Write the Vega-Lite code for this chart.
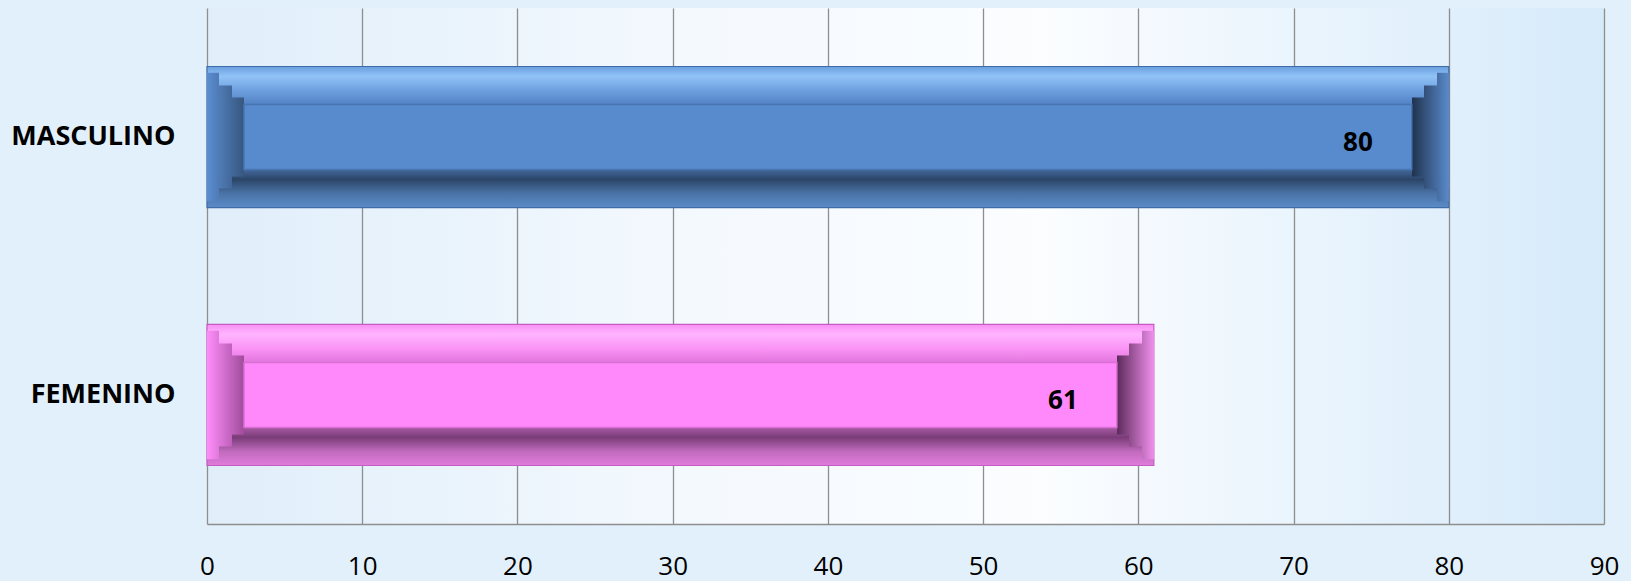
{
  "$schema": "https://vega.github.io/schema/vega-lite/v6.json",
  "width": 1397,
  "height": 516,
  "autosize": {"type": "none"},
  "padding": {"left": 207, "top": 8, "right": 27, "bottom": 57},
  "background": "#e2f0fb",
  "config": {
    "view": {
      "stroke": null,
      "fill": {
        "gradient": "linear", "x1": 0, "y1": 0, "x2": 1, "y2": 0,
        "stops": [
          {"offset": 0, "color": "#e0eefa"},
          {"offset": 0.35, "color": "#f4f9fe"},
          {"offset": 0.6, "color": "#fbfdff"},
          {"offset": 1, "color": "#d6eafa"}
        ]
      }
    },
    "font": "Open Sans"
  },
  "data": {
    "values": [
      {"sexo": "MASCULINO", "total": 80},
      {"sexo": "FEMENINO", "total": 61}
    ]
  },
  "encoding": {
    "y": {
      "field": "sexo", "type": "nominal", "sort": ["MASCULINO", "FEMENINO"],
      "scale": {"paddingInner": 0.453, "paddingOuter": 0.2267},
      "axis": {
        "title": null, "domain": false, "ticks": false, "grid": false,
        "labelFont": "Open Sans", "labelFontSize": 27, "labelFontWeight": "bold",
        "labelColor": "#000000", "labelPadding": 32
      }
    },
    "x": {
      "field": "total", "type": "quantitative",
      "scale": {"domain": [0, 90], "nice": false},
      "axis": {
        "title": null, "values": [0, 10, 20, 30, 40, 50, 60, 70, 80, 90],
        "grid": true, "gridColor": "#8e8e8e", "gridWidth": 1.3,
        "domain": true, "domainColor": "#8e8e8e", "domainWidth": 1.5,
        "ticks": false, "labelFont": "Open Sans", "labelFontSize": 26,
        "labelColor": "#000000", "labelBaseline": "middle", "labelPadding": 42,
        "labelFlush": false
      }
    }
  },
  "layer": [
    {
      "transform": [{"filter": "datum.sexo === 'MASCULINO'"}],
      "mark": {
        "type": "bar", "stroke": "#3f6ba6", "strokeWidth": 1.2,
        "fill": {
          "gradient": "linear", "x1": 0, "y1": 0, "x2": 0, "y2": 1,
          "stops": [
            {"offset": 0, "color": "#6a9fdf"},
            {"offset": 0.07, "color": "#91c3f7"},
            {"offset": 0.17, "color": "#6d9fdf"},
            {"offset": 0.26, "color": "#5585c6"},
            {"offset": 0.5, "color": "#5589cc"},
            {"offset": 0.73, "color": "#44699c"},
            {"offset": 0.8, "color": "#2b4568"},
            {"offset": 0.9, "color": "#4a73a6"},
            {"offset": 1, "color": "#5a8bc8"}
          ]
        }
      }
    },
    {
      "transform": [{"filter": "datum.sexo === 'MASCULINO'"}],
      "mark": {
        "type": "bar", "height": {"band": 0.91},
        "fill": {
          "gradient": "linear", "x1": 0, "y1": 0, "x2": 1, "y2": 0,
          "stops": [
            {"offset": 0, "color": "#5b8dd0"},
            {"offset": 0.0096, "color": "#4f7bb6"},
            {"offset": 0.0097, "color": "rgba(85,137,204,0)"},
            {"offset": 0.9903, "color": "rgba(85,137,204,0)"},
            {"offset": 0.9904, "color": "#476da2"},
            {"offset": 1, "color": "#5a8acb"}
          ]
        }
      },
      "encoding": {"x": {"field": "total", "type": "quantitative"}, "x2": {"datum": 0}}
    },
    {
      "transform": [{"filter": "datum.sexo === 'MASCULINO'"}],
      "mark": {
        "type": "bar", "height": {"band": 0.73},
        "fill": {
          "gradient": "linear", "x1": 0, "y1": 0, "x2": 1, "y2": 0,
          "stops": [
            {"offset": 0, "color": "#5b8dd0"},
            {"offset": 0.0201, "color": "#426899"},
            {"offset": 0.0202, "color": "rgba(85,137,204,0)"},
            {"offset": 0.9798, "color": "rgba(85,137,204,0)"},
            {"offset": 0.9799, "color": "#324e76"},
            {"offset": 1, "color": "#5a8acb"}
          ]
        }
      },
      "encoding": {"x": {"field": "total", "type": "quantitative"}, "x2": {"datum": 0}}
    },
    {
      "transform": [{"filter": "datum.sexo === 'MASCULINO'"}],
      "mark": {
        "type": "bar", "height": {"band": 0.56},
        "fill": {
          "gradient": "linear", "x1": 0, "y1": 0, "x2": 1, "y2": 0,
          "stops": [
            {"offset": 0, "color": "#5b8dd0"},
            {"offset": 0.0298, "color": "#36577f"},
            {"offset": 0.0299, "color": "rgba(85,137,204,0)"},
            {"offset": 0.9701, "color": "rgba(85,137,204,0)"},
            {"offset": 0.9702, "color": "#1f324d"},
            {"offset": 1, "color": "#5a8acb"}
          ]
        }
      },
      "encoding": {"x": {"field": "total", "type": "quantitative"}, "x2": {"datum": 0}}
    },
    {
      "transform": [{"filter": "datum.sexo === 'MASCULINO'"}],
      "mark": {
        "type": "bar", "height": {"band": 0.46},
        "xOffset": -37, "x2Offset": 37,
        "fill": "#578bce", "stroke": "#4775b2", "strokeWidth": 1.5
      },
      "encoding": {"x": {"field": "total", "type": "quantitative"}, "x2": {"datum": 0}}
    },
    {
      "transform": [{"filter": "datum.sexo === 'FEMENINO'"}],
      "mark": {
        "type": "bar", "stroke": "#c45cc2", "strokeWidth": 1.2,
        "fill": {
          "gradient": "linear", "x1": 0, "y1": 0, "x2": 0, "y2": 1,
          "stops": [
            {"offset": 0, "color": "#f890f4"},
            {"offset": 0.07, "color": "#ffb4ff"},
            {"offset": 0.17, "color": "#fb94f6"},
            {"offset": 0.26, "color": "#e478e0"},
            {"offset": 0.5, "color": "#fe88fa"},
            {"offset": 0.73, "color": "#a85aa5"},
            {"offset": 0.8, "color": "#7a3c78"},
            {"offset": 0.9, "color": "#c06bbd"},
            {"offset": 1, "color": "#e07cdc"}
          ]
        }
      }
    },
    {
      "transform": [{"filter": "datum.sexo === 'FEMENINO'"}],
      "mark": {
        "type": "bar", "height": {"band": 0.91},
        "fill": {
          "gradient": "linear", "x1": 0, "y1": 0, "x2": 1, "y2": 0,
          "stops": [
            {"offset": 0, "color": "#ff8efb"},
            {"offset": 0.0127, "color": "#e079dc"},
            {"offset": 0.0128, "color": "rgba(254,136,250,0)"},
            {"offset": 0.9872, "color": "rgba(254,136,250,0)"},
            {"offset": 0.9873, "color": "#c06fbd"},
            {"offset": 1, "color": "#f090ec"}
          ]
        }
      },
      "encoding": {"x": {"field": "total", "type": "quantitative"}, "x2": {"datum": 0}}
    },
    {
      "transform": [{"filter": "datum.sexo === 'FEMENINO'"}],
      "mark": {
        "type": "bar", "height": {"band": 0.73},
        "fill": {
          "gradient": "linear", "x1": 0, "y1": 0, "x2": 1, "y2": 0,
          "stops": [
            {"offset": 0, "color": "#ff8efb"},
            {"offset": 0.0264, "color": "#bf61bb"},
            {"offset": 0.0265, "color": "rgba(254,136,250,0)"},
            {"offset": 0.9735, "color": "rgba(254,136,250,0)"},
            {"offset": 0.9736, "color": "#8c4b89"},
            {"offset": 1, "color": "#f090ec"}
          ]
        }
      },
      "encoding": {"x": {"field": "total", "type": "quantitative"}, "x2": {"datum": 0}}
    },
    {
      "transform": [{"filter": "datum.sexo === 'FEMENINO'"}],
      "mark": {
        "type": "bar", "height": {"band": 0.56},
        "fill": {
          "gradient": "linear", "x1": 0, "y1": 0, "x2": 1, "y2": 0,
          "stops": [
            {"offset": 0, "color": "#ff8efb"},
            {"offset": 0.0391, "color": "#a04c9c"},
            {"offset": 0.0392, "color": "rgba(254,136,250,0)"},
            {"offset": 0.9608, "color": "rgba(254,136,250,0)"},
            {"offset": 0.9609, "color": "#5c2a5a"},
            {"offset": 1, "color": "#f090ec"}
          ]
        }
      },
      "encoding": {"x": {"field": "total", "type": "quantitative"}, "x2": {"datum": 0}}
    },
    {
      "transform": [{"filter": "datum.sexo === 'FEMENINO'"}],
      "mark": {
        "type": "bar", "height": {"band": 0.46},
        "xOffset": -37, "x2Offset": 37,
        "fill": "#ff88fa", "stroke": "#d86fd4", "strokeWidth": 1.5
      },
      "encoding": {"x": {"field": "total", "type": "quantitative"}, "x2": {"datum": 0}}
    },
    {
      "mark": {
        "type": "text", "align": "right", "baseline": "middle",
        "dx": -76, "dy": 6, "fontSize": 26, "fontWeight": "bold",
        "font": "Open Sans", "color": "#000000"
      },
      "encoding": {"text": {"field": "total", "type": "quantitative"}}
    }
  ]
}
